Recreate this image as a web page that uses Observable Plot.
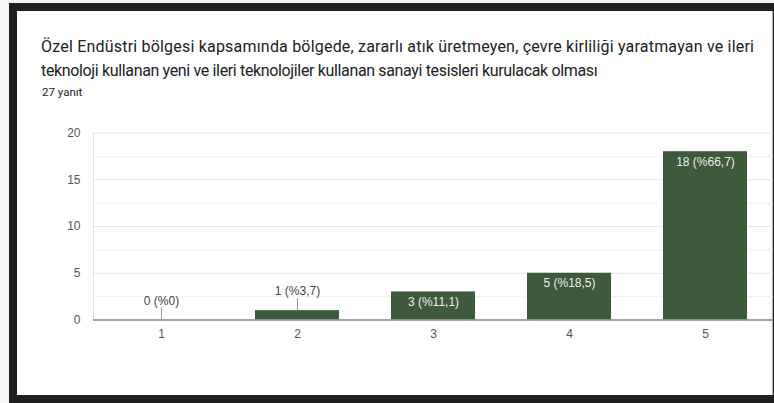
<!DOCTYPE html>
<html>
<head>
<meta charset="utf-8">
<script src="https://cdn.jsdelivr.net/npm/d3@7"></script>
<script src="https://cdn.jsdelivr.net/npm/@observablehq/plot@0.6"></script>
<style>
  html, body { margin: 0; padding: 0; background: #f6f6f6; }
  #page { position: relative; width: 774px; height: 403px; overflow: hidden; background: #f6f6f6; }
  #frame { position: absolute; left: 9px; top: 3px; width: 765px; height: 400px; background: #221f20; }
  #card { position: absolute; left: 17px; top: 11px; width: 755px; height: 384px; background: #fff; border-right: 1px solid #b0b0b0; }
  #title { position: absolute; left: 41px; top: 35px; font-family: Roboto, "Noto Sans", sans-serif; font-size: 16px; line-height: 24px; color: #202124; white-space: nowrap; }
  #title .l1 { letter-spacing: 0.2px; }
  #title .l2 { letter-spacing: -0.35px; }
  #sub { position: absolute; left: 42px; top: 86px; font-family: Roboto, "Noto Sans", sans-serif; font-size: 11.5px; line-height: 13px; color: #202124; white-space: nowrap; }
  #chart { position: absolute; left: 0; top: 0; }
  #chart svg { background: transparent !important; }
</style>
</head>
<body>
<div id="page">
  <div id="frame"></div>
  <div id="card"></div>
  <div id="title"><span class="l1">Özel Endüstri bölgesi kapsamında bölgede, zararlı atık üretmeyen, çevre kirliliği yaratmayan ve ileri</span><br><span class="l2">teknoloji kullanan yeni ve ileri teknolojiler kullanan sanayi tesisleri kurulacak olması</span></div>
  <div id="sub">27 yanıt</div>
  <div id="chart"></div>
</div>
<script>
const categories = ["1", "2", "3", "4", "5"];
const counts = [0, 1, 3, 5, 18];
const labels = ["0 (%0)", "1 (%3,7)", "3 (%11,1)", "5 (%18,5)", "18 (%66,7)"];
const yTicks = [0, 5, 10, 15, 20];
const yMinorGrid = [2.5, 7.5, 12.5, 17.5];
const insideThreshold = 3;

const data = categories.map((c, i) => ({cat: c, value: counts[i], label: labels[i]}));
const inside = data.filter(d => d.value >= insideThreshold);
const outside = data.filter(d => d.value < insideThreshold);

const chart = Plot.plot({
  width: 774,
  height: 403,
  marginTop: 132.5,
  marginBottom: 83.5,
  marginLeft: 93,
  marginRight: 1,
  style: {background: "transparent", fontFamily: "Arial, 'Liberation Sans', sans-serif"},
  x: {domain: categories, paddingInner: 0.38, paddingOuter: 0.19, label: null},
  y: {domain: [0, 20], label: null},
  marks: [
    Plot.ruleY(yMinorGrid, {stroke: "#f0f0f0", strokeWidth: 1}),
    Plot.ruleY(yTicks.filter(t => t > 0), {stroke: "#e6e6e6", strokeWidth: 1}),
    Plot.frame({anchor: "left", stroke: "#e3e3e3"}),
    Plot.barY(data, {x: "cat", y: "value", fill: "#3d5a3b"}),
    Plot.ruleY([0], {stroke: "#858585", strokeWidth: 1.5}),
    Plot.ruleX(outside, {x: "cat", y1: "value", y2: "value", insetTop: -12, stroke: "#9a9a9a", strokeWidth: 1}),
    Plot.text(outside, {x: "cat", y: "value", text: "label", dy: -19, fill: "#444", fontSize: 12}),
    Plot.text(inside, {x: "cat", y: "value", text: "label", dy: 10, fill: "#ececec", fontSize: 12}),
    Plot.axisY(yTicks, {tickSize: 0, tickPadding: 13, fontSize: 12, color: "#555", label: null}),
    Plot.axisX({tickSize: 0, tickPadding: 9, fontSize: 12, color: "#555", label: null})
  ]
});
document.getElementById("chart").appendChild(chart);
</script>
</body>
</html>
